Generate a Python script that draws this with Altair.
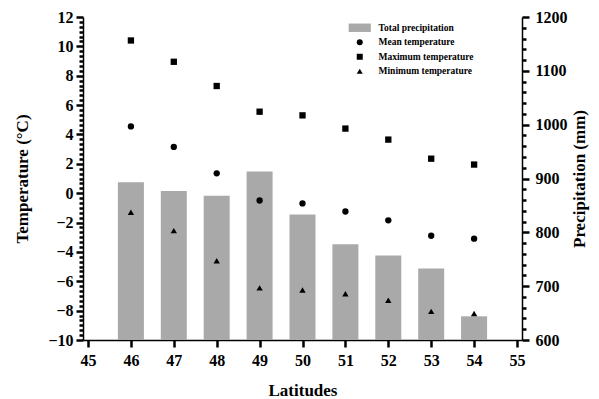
import altair as alt
import pandas as pd

# ---- data ----
latitudes = [46, 47, 48, 49, 50, 51, 52, 53, 54]
precipitation = [893, 877, 868, 913, 833, 778, 757, 733, 644]
temp_mean = [4.55, 3.15, 1.35, -0.5, -0.7, -1.25, -1.85, -2.9, -3.1]
temp_max = [10.4, 8.95, 7.3, 5.55, 5.3, 4.4, 3.65, 2.35, 1.95]
temp_min = [-1.3, -2.55, -4.6, -6.45, -6.6, -6.85, -7.3, -8.05, -8.2]

series_names = ["Total precipitation", "Mean temperature",
                "Maximum temperature", "Minimum temperature"]

x_ticks = list(range(45, 56))
temp_major = list(range(-10, 13, 2))
precip_major = list(range(600, 1201, 100))

temp_minor = [round(t + k / 3, 4) for t in temp_major[:-1] for k in range(1, 6)]
precip_ticks = list(range(600, 1201, 20))

bars = pd.DataFrame({"lat": latitudes, "value": precipitation,
                     "series": series_names[0]})
points = pd.concat([
    pd.DataFrame({"lat": latitudes, "value": temp_mean, "series": series_names[1]}),
    pd.DataFrame({"lat": latitudes, "value": temp_max, "series": series_names[2]}),
    pd.DataFrame({"lat": latitudes, "value": temp_min, "series": series_names[3]}),
])

FONT = "Liberation Serif"
rect_path = "M-3.7,-1.4H3.7V1.4H-3.7Z"
TICK = dict(ticks=True, tickColor="#000000", tickWidth=2.5, tickOpacity=1)

color_scale = alt.Scale(domain=series_names,
                        range=["#a9a9a9", "black", "black", "black"])
shape_scale = alt.Scale(domain=series_names,
                        range=[rect_path, "circle", "square", "triangle-up"])

legend = alt.Legend(title=None, orient="none", legendX=272, legendY=6,
                    labelFont=FONT, labelFontWeight="bold", labelFontSize=9.5,
                    labelColor="black", symbolSize=36, labelOffset=14,
                    rowPadding=3.5, symbolStrokeWidth=0)

x_enc = alt.X("lat:Q",
              scale=alt.Scale(domain=[45, 55], nice=False, zero=False),
              axis=alt.Axis(values=x_ticks, title="Latitudes", format="d",
                            grid=False, tickSize=7, **TICK,
                            labelPadding=5, titlePadding=14, labelOverlap=False))

minor_p = "datum.value % 100 != 0"
temp_scale = alt.Scale(domain=[-10, 12], nice=False, zero=False)

bar_layer = alt.Chart(bars).mark_bar(size=26).encode(
    x=x_enc,
    y=alt.Y("value:Q",
            scale=alt.Scale(domain=[600, 1200], nice=False, zero=False),
            axis=alt.Axis(orient="right", values=precip_ticks, grid=False,
                          title="Precipitation (mm)", titleAngle=270,
                          titlePadding=21, labelPadding=6, format="d",
                          labelOverlap=False, **TICK,
                          labelExpr="datum.value % 100 == 0 ? datum.label : ''",
                          tickSize={"condition": {"test": minor_p, "value": 4}, "value": 7})),
    y2=alt.Y2(datum=600),
    color=alt.Color("series:N", scale=color_scale, legend=legend),
)

point_layer = alt.Chart(points).mark_point(filled=True, size=40, opacity=1).encode(
    x=x_enc,
    y=alt.Y("value:Q", scale=temp_scale,
            axis=alt.Axis(orient="left", values=temp_major, grid=False,
                          title="Temperature (°C)", titlePadding=16,
                          labelPadding=3, labelOverlap=False, format="d",
                          tickSize=7, **TICK)),
    shape=alt.Shape("series:N", scale=shape_scale, legend=legend),
    color=alt.Color("series:N", scale=color_scale, legend=legend),
)

# minor ticks of the temperature axis
minor_layer = alt.Chart(points).mark_point(opacity=0).encode(
    x=x_enc,
    y=alt.Y("value:Q", scale=temp_scale,
            axis=alt.Axis(orient="left", values=temp_minor, grid=False,
                          title=None, labels=False, domain=False,
                          tickSize=4, **TICK)),
)

chart = alt.layer(bar_layer, point_layer, minor_layer).resolve_scale(
    y="independent"
).properties(
    width=439, height=323,
    autosize=alt.AutoSizeParams(type="none"),
    padding={"left": 75, "top": 9, "right": 69, "bottom": 66},
).configure_view(stroke=None).configure_axis(
    domainColor="black", domainWidth=1.5,
    labelFont=FONT, labelFontWeight="bold", labelFontSize=16, labelColor="black",
    titleFont=FONT, titleFontWeight="bold", titleFontSize=17, titleColor="black",
)

chart.save("out.html", embed_options={"renderer": "svg", "actions": False})
